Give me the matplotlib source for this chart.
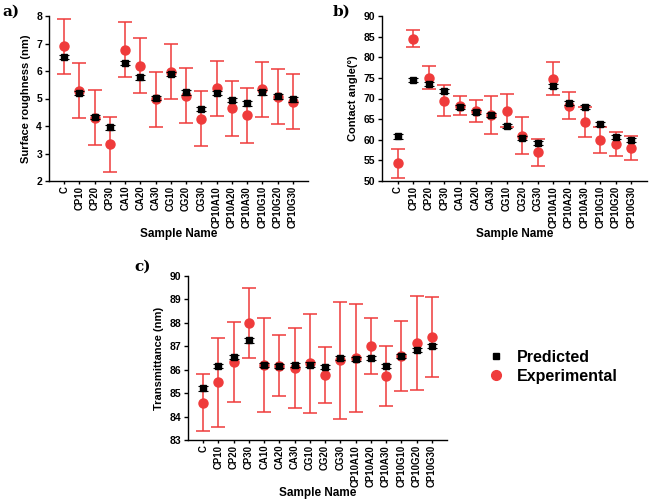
import numpy as np
import matplotlib.pyplot as plt
from matplotlib.lines import Line2D

plt.rcParams['font.family'] = ['Liberation Sans', 'DejaVu Sans']
plt.rcParams['font.weight'] = 'bold'

samples = ["C", "CP10", "CP20", "CP30", "CA10", "CA20", "CA30", "CG10", "CG20",
           "CG30", "CP10A10", "CP10A20", "CP10A30", "CP10G10", "CP10G20", "CP10G30"]

# a) surface roughness
rough_pred = [6.5, 5.2, 4.33, 3.95, 6.3, 5.77, 5.02, 5.9, 5.22, 4.62, 5.2, 4.95, 4.82, 5.22, 5.08, 4.97]
rough_pred_err = 0.08
rough_exp = [6.9, 5.28, 4.3, 3.33, 6.78, 6.2, 4.98, 5.98, 5.1, 4.27, 5.38, 4.65, 4.4, 5.33, 5.07, 4.88]
rough_err = [1.0] * 16

# b) contact angle
angle_pred = [60.8, 74.4, 73.5, 71.8, 68.0, 66.8, 66.0, 63.4, 60.5, 59.3, 73.0, 69.0, 68.0, 63.8, 60.7, 59.9]
angle_pred_err = 0.5
angle_exp = [54.3, 84.5, 75.0, 69.5, 68.3, 67.0, 66.0, 67.0, 61.0, 57.0, 74.8, 68.3, 64.3, 60.0, 59.0, 58.0]
angle_err = [3.5, 2.1, 2.8, 3.7, 2.2, 2.7, 4.5, 4.0, 4.4, 3.3, 4.0, 3.2, 3.6, 3.1, 3.0, 2.8]

# c) transmittance
trans_pred = [85.2, 86.15, 86.55, 87.25, 86.2, 86.17, 86.2, 86.22, 86.12, 86.5, 86.47, 86.5, 86.15, 86.57, 86.85, 87.0]
trans_pred_err = 0.09
trans_exp = [84.6, 85.47, 86.33, 88.0, 86.2, 86.17, 86.08, 86.27, 85.77, 86.4, 86.5, 87.0, 85.73, 86.6, 87.15, 87.4]
trans_err = [1.2, 1.9, 1.7, 1.5, 2.0, 1.3, 1.7, 2.1, 1.2, 2.5, 2.3, 1.2, 1.3, 1.5, 2.0, 1.7]

red = '#ef3b3b'
x = np.arange(len(samples))

fig = plt.figure(figsize=(6.6, 5), dpi=100)


def panel(rect, pred, pred_err, exp, err, ylim, yticks, ylabel, tag, tagpos):
    ax = fig.add_axes(rect)
    ax.errorbar(x, exp, yerr=err, fmt='o', color=red, ms=6.5, ecolor=red,
                elinewidth=1.1, capsize=5, capthick=1.1, zorder=2)
    ax.errorbar(x, pred, yerr=pred_err, fmt='s', color='black', ms=5,
                ecolor='black', elinewidth=0.8, capsize=3.5, capthick=0.8, zorder=3)
    ax.set_xlim(-1.0, 16)
    ax.set_ylim(*ylim)
    ax.set_yticks(yticks)
    ax.set_xticks(x)
    ax.set_xticklabels(samples, rotation=90, fontsize=6.9, fontweight='bold')
    ax.tick_params(axis='y', labelsize=7.5, direction='out', length=3, width=1, pad=2)
    ax.tick_params(axis='x', direction='out', length=2.5, width=1, pad=1)
    for s in ['top', 'right']:
        ax.spines[s].set_visible(False)
    for s in ['left', 'bottom']:
        ax.spines[s].set_linewidth(1)
    ax.set_ylabel(ylabel, fontsize=8, fontweight='bold', labelpad=4)
    ax.set_xlabel('Sample Name', fontsize=8.5, fontweight='bold', labelpad=0)
    fig.text(tagpos[0], tagpos[1], tag, family='DejaVu Serif', fontsize=11,
             fontweight='bold', ha='left', va='top')
    return ax


panel([49 / 660, 1 - 181 / 500, 259 / 660, 165 / 500], rough_pred, rough_pred_err, rough_exp, rough_err,
      (2, 8), range(2, 9), 'Surface roughness (nm)', 'a)', (0.003, 0.99))
panel([382 / 660, 1 - 181 / 500, 265 / 660, 165 / 500], angle_pred, angle_pred_err, angle_exp, angle_err,
      (50, 90), range(50, 91, 5), 'Contact angle(°)', 'b)', (333 / 660, 0.99))
panel([188 / 660, 1 - 440 / 500, 259 / 660, 164 / 500], trans_pred, trans_pred_err, trans_exp, trans_err,
      (83, 90), range(83, 91), 'Transmittance (nm)', 'c)', (134 / 660, 1 - 260 / 500))

handles = [Line2D([], [], ls='none', marker='s', color='black', ms=5),
           Line2D([], [], ls='none', marker='o', color=red, ms=7)]
fig.legend(handles, ['Predicted', 'Experimental'], loc='center left',
           bbox_to_anchor=(472 / 660, 1 - 367 / 500), frameon=False,
           prop={'size': 11.5, 'weight': 'bold'}, handletextpad=0.7, labelspacing=0.25,
           handlelength=1.2)

fig.savefig('out.png', dpi=100)
